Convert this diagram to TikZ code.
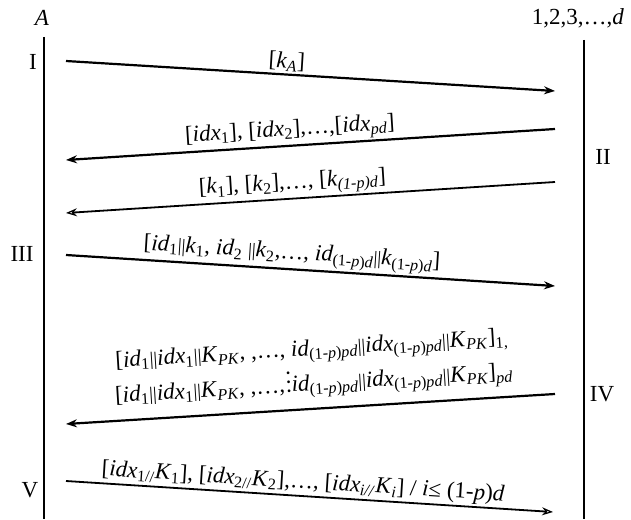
\documentclass[tikz,border=0pt]{standalone}
\usepackage{fontspec}
\setmainfont{Liberation Serif}
\usetikzlibrary{arrows.meta}
\newcommand\sbs[1]{\textsubscript{#1}}
\newcommand\ii[1]{\textit{#1}}
\newcommand\bb{{\fontsize{19}{19}\selectfont||}}
\newcommand\myvdots{\vbox{\offinterlineskip\hbox{.}\kern6pt\hbox{.}\kern6pt\hbox{.}}}
\newcommand\opd{(1-\ii{p})\ii{pd}}
\begin{document}
\begin{tikzpicture}[x=1pt,y=-1pt,
  every node/.style={font=\fontsize{23}{30}\selectfont, inner sep=1pt},
  life/.style={line width=1.3pt},
  msg/.style={line width=2.2pt,-{Stealth[length=11pt,width=8pt]}},
  msgopen/.style={line width=1.8pt,-{Stealth[open,length=11pt,width=8pt,line width=1.2pt]}},
  lbl/.style={sloped,above=1pt},
  num/.style={}]
\useasboundingbox (0,0) rectangle (631,519);
% participants
\node (A) at (42,18) {\ii{A}};
\node (D) at (578,18) {1,2,3,…,\ii{d}};
\coordinate (At) at (44,37);
\coordinate (Ab) at (44,519);
\coordinate (Dt) at (584,40);
\coordinate (Db) at (584,519);
\draw[life] (At) -- (Ab);
\draw[life] (Dt) -- (Db);
% step labels
\node[num] (s1) at (33,62) {I};
\node[num] (s2) at (603,157) {II};
\node[num] (s3) at (22,254) {III};
\node[num] (s4) at (602,394) {IV};
\node[num] (s5) at (30,490) {V};
% message end points
\coordinate (m1s) at (66,61);  \coordinate (m1e) at (555,91);
\coordinate (m2s) at (555,129); \coordinate (m2e) at (66,160);
\coordinate (m3s) at (555,182); \coordinate (m3e) at (66,213);
\coordinate (m4s) at (66,255); \coordinate (m4e) at (555,286);
\coordinate (m5s) at (555,394); \coordinate (m5e) at (66,424);
\coordinate (m6s) at (66,481); \coordinate (m6e) at (553,512);
% messages
\draw[msg] (m1s) -- node[lbl,pos=0.45] (t1) {[\ii{k}\sbs{\ii{A}}]} (m1e);
\draw[msg] (m2s) -- node[lbl,pos=0.54] (t2) {[\ii{idx}\sbs{1}], [\ii{idx}\sbs{2}],…,[\ii{idx}\sbs{\ii{pd}}]} (m2e);
\draw[msgopen] (m3s) -- node[lbl,pos=0.535] (t3) {[\ii{k}\sbs{1}], [\ii{k}\sbs{2}],…, [\ii{k}\sbs{\ii{(1-p)d}}]} (m3e);
\draw[msg] (m4s) -- node[lbl,pos=0.46] (t4) {[\ii{id}\sbs{1}\bb\ii{k}\sbs{1}, \ii{id}\sbs{2} \bb\ii{k}\sbs{2},…, \ii{id}\sbs{(1-\ii{p})\ii{d}}\bb\ii{k}\sbs{(1-\ii{p})\ii{d}}]} (m4e);
\draw[msg] (m5s) -- node[lbl,pos=0.49,above=8pt,align=center,font=\fontsize{23}{35}\selectfont] (t5)
  {{[}\ii{id}\sbs{1}\bb\ii{idx}\sbs{1}\bb\ii{K}\sbs{\ii{PK}}, ,…, \ii{id}\sbs{\opd}\bb\ii{idx}\sbs{\opd}\bb\ii{K}\sbs{\ii{PK}}]\sbs{1,}\\
   {[}\ii{id}\sbs{1}\bb\ii{idx}\sbs{1}\bb\ii{K}\sbs{\ii{PK}}, ,…,\kern1pt\rlap{\myvdots} \ii{id}\sbs{\opd}\bb\ii{idx}\sbs{\opd}\bb\ii{K}\sbs{\ii{PK}}]\sbs{\ii{pd}}} (m5e);
\draw[msgopen] (m6s) -- node[lbl,pos=0.485] (t6) {[\ii{idx}\sbs{1//}\ii{K}\sbs{1}], [\ii{idx}\sbs{2//}\ii{K}\sbs{2}],…, [\ii{idx}\sbs{\ii{i//}}\ii{K}\sbs{\ii{i}}] / \ii{i}≤ (1-\ii{p})\ii{d}} (m6e);
\end{tikzpicture}
\end{document}
